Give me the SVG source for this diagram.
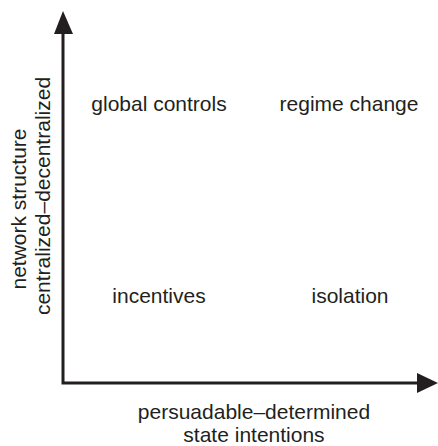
<svg xmlns="http://www.w3.org/2000/svg" width="438" height="446" viewBox="0 0 438 446">
<style>
text{font-family:"Liberation Sans",Arial,sans-serif;font-size:21px;fill:#231f20}
.ax{stroke:#231f20;stroke-width:3;fill:none}
.ah{fill:#231f20}
</style>
<rect width="438" height="446" fill="#fff"/>
<g id="connectors">
<path class="ax" d="M63,32 V383 H420"/>
<polygon class="ah" points="63,11 54,34 73,34"/>
<polygon class="ah" points="438,383 417,373 417,393"/>
</g>
<g id="axis-y-label">
<text transform="translate(26,209) rotate(-90)" text-anchor="middle">network structure</text>
<text transform="translate(50,196) rotate(-90)" text-anchor="middle">centralized–decentralized</text>
</g>
<g id="axis-x-label">
<text x="254" y="419" text-anchor="middle">persuadable–determined</text>
<text x="254" y="442" text-anchor="middle">state intentions</text>
</g>
<g id="global-controls"><text x="159" y="111" text-anchor="middle">global controls</text></g>
<g id="regime-change"><text x="349" y="111" text-anchor="middle">regime change</text></g>
<g id="incentives"><text x="159" y="303" text-anchor="middle">incentives</text></g>
<g id="isolation"><text x="350" y="303" text-anchor="middle">isolation</text></g>
</svg>
